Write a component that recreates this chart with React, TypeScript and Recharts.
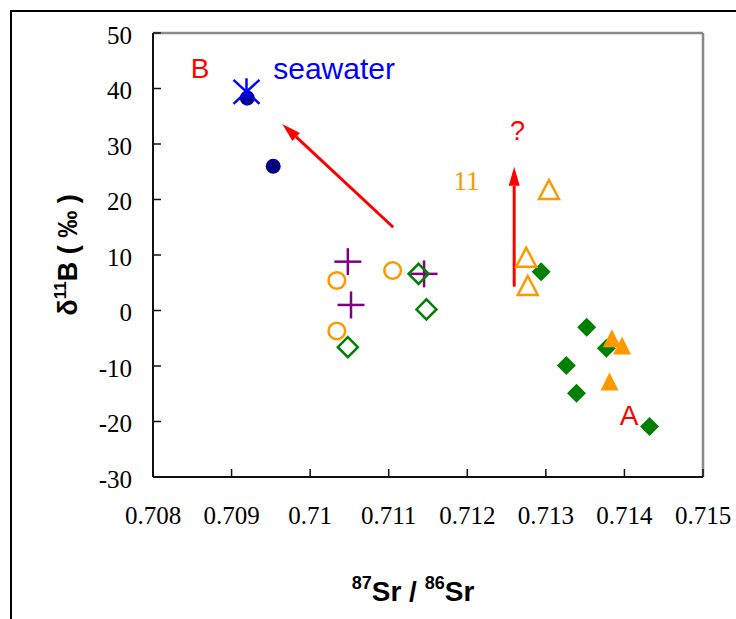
import {
  Label,
  ReferenceDot,
  ReferenceLine,
  Scatter,
  ScatterChart,
  XAxis,
  YAxis
} from "recharts";

// axis ticks
const xTicks = [0.708, 0.709, 0.71, 0.711, 0.712, 0.713, 0.714, 0.715];
const yTicks = [-30, -20, -10, 0, 10, 20, 30, 40, 50];

// series, [87Sr/86Sr, d11B]
const navyDots = [
  { x: 0.7092, y: 38.3 },
  { x: 0.70953, y: 26.0 }
];
const seawater = [{ x: 0.70919, y: 39.4 }];
const purplePlus = [
  { x: 0.71048, y: 8.8 },
  { x: 0.71052, y: 1.0 },
  { x: 0.71145, y: 6.6 }
];
const orangeRings = [
  { x: 0.71034, y: 5.4 },
  { x: 0.71034, y: -3.7 },
  { x: 0.71105, y: 7.2 }
];
const openDiamonds = [
  { x: 0.71048, y: -6.6 },
  { x: 0.71138, y: 6.6 },
  { x: 0.71148, y: 0.2 }
];
const solidDiamonds = [
  { x: 0.71294, y: 7.0 },
  { x: 0.71352, y: -3.0 },
  { x: 0.71377, y: -6.8 },
  { x: 0.71326, y: -9.9 },
  { x: 0.71339, y: -14.9 },
  { x: 0.71432, y: -20.9 }
];
const openTriangles = [
  { x: 0.71304, y: 21.8 },
  { x: 0.71275, y: 9.6 },
  { x: 0.71277, y: 4.5 }
];
const solidTriangles = [
  { x: 0.71384, y: -5.0 },
  { x: 0.71397, y: -6.3 },
  { x: 0.71381, y: -12.8 }
];

// arrows: tail -> head
const arrows = [
  { from: { x: 0.711057, y: 15.0 }, to: { x: 0.709645, y: 33.6 } },
  { from: { x: 0.712597, y: 4.3 }, to: { x: 0.712597, y: 25.9 } }
];

// text notes placed in data space
const notes = [
  { x: 0.7086, y: 43.7, text: "B", color: "#ff0000", size: 28, font: "Liberation Sans", anchor: "middle" },
  { x: 0.70953, y: 43.7, text: "seawater", color: "#0000ff", size: 30, font: "Liberation Sans", anchor: "start" },
  { x: 0.71264, y: 32.5, text: "?", color: "#ff0000", size: 27, font: "Liberation Sans", anchor: "middle" },
  { x: 0.71199, y: 23.5, text: "11", color: "#ff9900", size: 27, font: "Liberation Serif", anchor: "middle" },
  { x: 0.71406, y: -18.8, text: "A", color: "#ff0000", size: 28, font: "Liberation Sans", anchor: "middle" }
];

const ORANGE = "#ff9900";
const GREEN = "#008000";
const tickFont = { fontSize: 25, fontFamily: "Liberation Serif", fill: "#000" };

const NavyDot = ({ cx, cy }: any) => <circle cx={cx} cy={cy} r={7.5} fill="#000080" />;

const Asterisk = ({ cx, cy }: any) => (
  <g stroke="#0000ff" strokeWidth={2.5}>
    <line x1={cx} y1={cy - 13.5} x2={cx} y2={cy + 13.5} />
    <line x1={cx - 13} x2={cx + 13} y1={cy - 12} y2={cy + 12} />
    <line x1={cx - 13} x2={cx + 13} y1={cy + 12} y2={cy - 12} />
  </g>
);

const Plus = ({ cx, cy }: any) => (
  <g stroke="#800080" strokeWidth={2.5}>
    <line x1={cx - 13.5} y1={cy} x2={cx + 13.5} y2={cy} />
    <line x1={cx} y1={cy - 13.5} x2={cx} y2={cy + 13.5} />
  </g>
);

const Ring = ({ cx, cy }: any) => (
  <circle cx={cx} cy={cy} r={8.3} fill="none" stroke={ORANGE} strokeWidth={2.5} />
);

const Diamond = (half: number, filled: boolean) => ({ cx, cy }: any) => (
  <polygon
    points={`${cx},${cy - half} ${cx + half},${cy} ${cx},${cy + half} ${cx - half},${cy}`}
    fill={filled ? GREEN : "none"}
    stroke={GREEN}
    strokeWidth={filled ? 0 : 2.5}
  />
);

const Triangle = (w: number, h: number, filled: boolean) => ({ cx, cy }: any) => (
  <polygon
    points={`${cx},${cy - h} ${cx + w},${cy + h} ${cx - w},${cy + h}`}
    fill={filled ? ORANGE : "none"}
    stroke={ORANGE}
    strokeWidth={filled ? 0 : 2.5}
  />
);

const Arrow = ({ x1, y1, x2, y2 }: any) => {
  const ang = Math.atan2(y2 - y1, x2 - x1);
  const len = 19;
  const half = 5.5;
  const bx = x2 - len * Math.cos(ang);
  const by = y2 - len * Math.sin(ang);
  const px = -Math.sin(ang) * half;
  const py = Math.cos(ang) * half;
  return (
    <g>
      <line x1={x1} y1={y1} x2={bx} y2={by} stroke="#ff0000" strokeWidth={3} />
      <polygon points={`${x2},${y2} ${bx + px},${by + py} ${bx - px},${by - py}`} fill="#ff0000" />
    </g>
  );
};

const fmtX = (v: number) => String(Number(v.toFixed(3)));

export default function App() {
  return (
    <div style={{ position: "relative", width: 736, height: 619, overflow: "hidden" }}>
      <style>{`body { margin: 0; }`}</style>
      <div
        style={{
          position: "absolute",
          left: 10,
          top: 10,
          width: 726,
          height: 609,
          boxSizing: "border-box",
          borderTop: "2px solid #000",
          borderLeft: "2px solid #000"
        }}
      />
      <div style={{ position: "absolute", left: 8, top: 8 }}>
        <ScatterChart
          width={728}
          height={603}
          margin={{ top: 25, right: 33, bottom: 0, left: 0 }}
        >
          <XAxis
            type="number"
            dataKey="x"
            domain={[0.708, 0.715]}
            ticks={xTicks}
            tickFormatter={fmtX}
            height={134}
            tickSize={-8}
            tickMargin={37}
            axisLine={{ stroke: "#111", strokeWidth: 2 }}
            tickLine={{ stroke: "#111", strokeWidth: 1.5 }}
            tick={tickFont}
            interval={0}
          >
            <Label
              content={() => (
                <text x={405} y={593} textAnchor="middle" fontFamily="Liberation Sans" fontWeight="bold" fontSize={28} fill="#000">
                  <tspan fontSize={18} dy={-12}>87</tspan>
                  <tspan dy={12}>Sr / </tspan>
                  <tspan fontSize={18} dy={-12}>86</tspan>
                  <tspan dy={12}>Sr</tspan>
                </text>
              )}
            />
          </XAxis>
          <YAxis
            type="number"
            dataKey="y"
            domain={[-30, 50]}
            ticks={yTicks}
            width={145}
            tickSize={-8}
            tickMargin={29}
            axisLine={{ stroke: "#111", strokeWidth: 2 }}
            tickLine={{ stroke: "#111", strokeWidth: 1.5 }}
            tick={{ ...tickFont, dy: 2 }}
            interval={0}
          >
            <Label
              content={() => (
                <text
                  x={69}
                  y={247}
                  transform="rotate(-90, 69, 247)"
                  textAnchor="middle"
                  fontFamily="Liberation Sans"
                  fontWeight="bold"
                  fontSize={27}
                  fill="#000"
                >
                  δ<tspan fontSize={17} dy={-11}>11</tspan>
                  <tspan dy={11}>B ( ‰ )</tspan>
                </text>
              )}
            />
          </YAxis>

          <ReferenceLine y={50} stroke="#8a8a8a" strokeWidth={2.5} />
          <ReferenceLine x={0.715} stroke="#8a8a8a" strokeWidth={2.5} />

          <Scatter data={navyDots} shape={NavyDot} isAnimationActive={false} />
          <Scatter data={seawater} shape={Asterisk} isAnimationActive={false} />
          <Scatter data={purplePlus} shape={Plus} isAnimationActive={false} />
          <Scatter data={orangeRings} shape={Ring} isAnimationActive={false} />
          <Scatter data={openDiamonds} shape={Diamond(10, false)} isAnimationActive={false} />
          <Scatter data={solidDiamonds} shape={Diamond(9.5, true)} isAnimationActive={false} />
          <Scatter data={openTriangles} shape={Triangle(10, 9.5, false)} isAnimationActive={false} />
          <Scatter data={solidTriangles} shape={Triangle(9, 9, true)} isAnimationActive={false} />

          {arrows.map((a, i) => (
            <ReferenceLine
              key={`arrow-${i}`}
              segment={[a.from, a.to]}
              shape={Arrow}
              ifOverflow="visible"
            />
          ))}

          {notes.map((n) => (
            <ReferenceDot
              key={n.text}
              x={n.x}
              y={n.y}
              ifOverflow="visible"
              shape={({ cx, cy }: any) => (
                <text
                  x={cx}
                  y={cy}
                  dy="0.36em"
                  textAnchor={n.anchor as any}
                  fontFamily={n.font}
                  fontSize={n.size}
                  fill={n.color}
                >
                  {n.text}
                </text>
              )}
            />
          ))}
        </ScatterChart>
      </div>
    </div>
  );
}
